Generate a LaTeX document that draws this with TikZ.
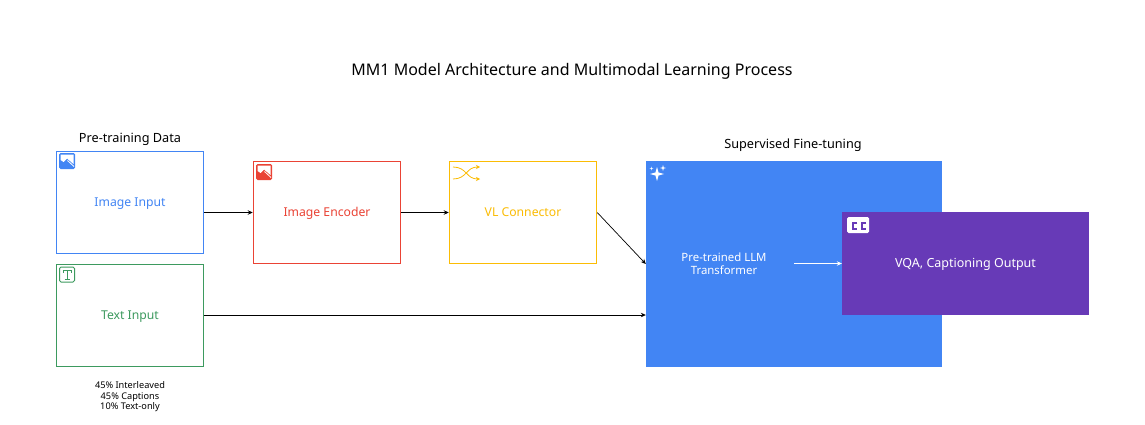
\documentclass[tikz,border=0pt]{standalone}
\usepackage{fontspec}
\setmainfont{Noto Sans}
\usetikzlibrary{arrows.meta, positioning, calc}
\definecolor{gblue}{RGB}{66,133,244}
\definecolor{gred}{RGB}{234,67,53}
\definecolor{gyellow}{RGB}{251,188,4}
\definecolor{ggreen}{RGB}{61,154,95}
\definecolor{gpurple}{RGB}{103,58,183}
\newcommand{\sparkle}[3]{\fill[white] (#1-#3,#2) -- (#1-#3*0.22,#2-#3*0.22) -- (#1,#2-#3) -- (#1+#3*0.22,#2-#3*0.22) -- (#1+#3,#2) -- (#1+#3*0.22,#2+#3*0.22) -- (#1,#2+#3) -- (#1-#3*0.22,#2+#3*0.22) -- cycle;}
\tikzset{
    pics/imageicon/.style={code={
        \fill[#1, rounded corners=1.5pt] (0,0) rectangle (16,16);
        \fill[white] (1.5,1.5) -- (14.5,1.5) -- (14.5,11) -- (8,5.5) -- (4.5,9) -- (1.5,7) -- cycle;
        \draw[white, line width=0.8pt] (8.5,7.5) -- (15,13.5);
    }},
    pics/texticon/.style={code={
        \draw[#1, rounded corners=1.5pt, line width=1pt] (0,0) rectangle (15,15);
        \draw[#1, line width=1pt] (3.5,5.5) -- (3.5,3.5) -- (11.5,3.5) -- (11.5,5.5) (7.5,3.5) -- (7.5,12) (5,12) -- (10,12);
    }},
    pics/swapicon/.style={code={
        \draw[#1, line width=0.8pt, -{Stealth[length=4pt,width=4pt]}] (0,0) .. controls (14,0) and (13,12) .. (27,12);
        \draw[#1, line width=0.8pt, -{Stealth[length=4pt,width=4pt]}] (0,12) .. controls (14,12) and (13,0) .. (27,0);
    }},
    pics/sparkleicon/.style={code={
        \sparkle{7}{8}{7}
        \sparkle{1.5}{2.5}{1.8}
        \sparkle{13}{2}{3}
    }},
    pics/ccicon/.style={code={
        \fill[white, rounded corners=1.5pt] (0,0) rectangle (22,16);
        \draw[#1, line width=1.6pt] (10.3,5.8) -- (6,5.8) -- (6,11.8) -- (10.3,11.8) (19,5.8) -- (14.7,5.8) -- (14.7,11.8) -- (19,11.8);
    }}
}
\begin{document}
\begin{tikzpicture}[
        x=1pt, y=-1pt,
        inputbox/.style={rectangle, draw=#1, line width=1pt, fill=white, text=#1, minimum width=147.5pt, minimum height=102pt, text height=11pt, text depth=2.5pt, font=\fontsize{12.2}{15}\selectfont},
        solidbox/.style={rectangle, fill=#1, text=white, text height=11pt, text depth=2.5pt, font=\fontsize{12.5}{15}\selectfont},
        caption/.style={font=\fontsize{12.7}{15}\selectfont, inner sep=0pt},
        arrow/.style={-{Stealth[length=5pt,width=4.5pt]}, black, line width=0.7pt}
    ]
        \useasboundingbox (0,0) rectangle (1145,425);

        \node[inner sep=0pt, font=\fontsize{16}{19}\selectfont] (title) at (572,71) {MM1 Model Architecture and Multimodal Learning Process};

        \node[inputbox=gblue] (imageinput) at (130,202) {Image Input};
        \node[inputbox=ggreen] (textinput) at (130,315) {Text Input};
        \node[inputbox=gred] (encoder) at (327,212.5) {Image Encoder};
        \node[inputbox=gyellow] (connector) at (523,212.5) {VL Connector};
        \node[solidbox=gblue, minimum width=296pt, minimum height=206pt] (llm) at (794,264) {};
        \node[solidbox=gpurple, minimum width=247pt, minimum height=103pt] (output) at (965.5,263.5) {VQA, Captioning Output};
        \node[align=center, text=white, inner sep=0pt, minimum width=140pt, font=\fontsize{11.4}{13.5}\selectfont] (llmlabel) at (724,263.5) {Pre-trained LLM\\Transformer};

        \node[caption] (pretrain) at (130,139) {Pre-training Data};
        \node[caption] (finetune) at (793,145) {Supervised Fine-tuning};
        \node[align=center, inner sep=0pt, font=\fontsize{9.2}{10.5}\selectfont] (ratios) at (130,397) {45\% Interleaved\\45\% Captions\\10\% Text-only};

        \draw[arrow] (encoder.west -| imageinput.east) -- (encoder.west);
        \draw[arrow] (encoder) -- (connector);
        \draw[arrow] (connector.east) -- (llm.west);
        \draw[arrow] (textinput.east) -- (textinput.east -| llm.west);
        \draw[arrow, white] (llmlabel.east) -- (output.west);

        \pic at (59,153) {imageicon=gblue};
        \pic at (256,164) {imageicon=gred};
        \pic at (59.5,267) {texticon=ggreen};
        \pic at (453,167) {swapicon=gyellow};
        \pic at (650,166) {sparkleicon};
        \pic at (847,217) {ccicon=gpurple};
    \end{tikzpicture}
\end{document}
